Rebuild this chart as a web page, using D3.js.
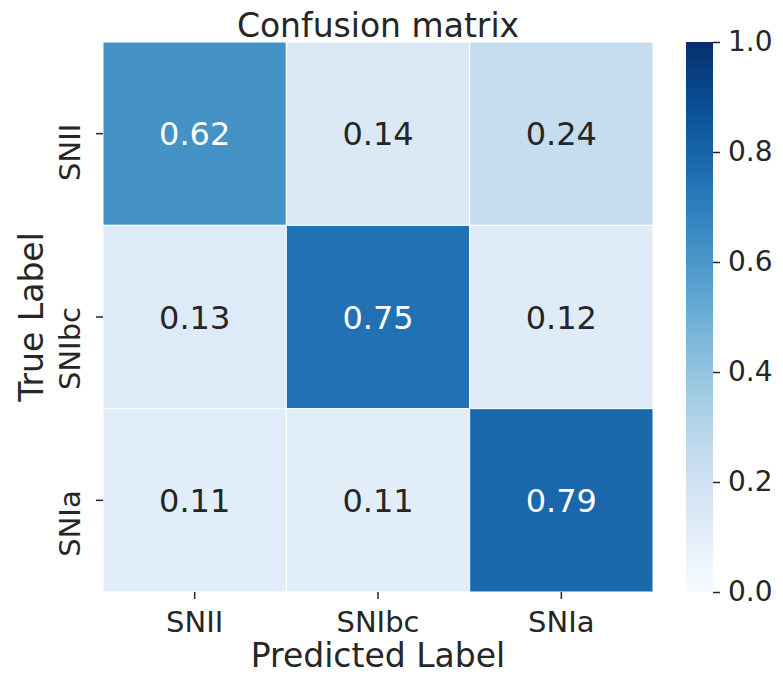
<!DOCTYPE html>
<html>
<head>
<meta charset="utf-8">
<script src="https://cdn.jsdelivr.net/npm/d3@7"></script>
<style>
  body { margin: 0; background: #fff; }
  svg text { font-family: "DejaVu Sans", sans-serif; fill: #262626; }
</style>
</head>
<body>
<svg width="783" height="675"></svg>
<script>
var labels = ['SNII', 'SNIbc', 'SNIa'];
var matrix = [
    [0.62, 0.14, 0.24],
    [0.13, 0.75, 0.12],
    [0.11, 0.11, 0.79]
];
var barTicks = [0, 0.2, 0.4, 0.6, 0.8, 1.0];

var svg = d3.select('svg');
var mLeft = 103, mTop = 42, size = 550;

var x = d3.scaleBand().domain(labels).range([mLeft, mLeft + size]);
var y = d3.scaleBand().domain(labels).range([mTop, mTop + size]);
var color = d3.scaleSequential(d3.interpolateBlues).domain([0, 1]);

var cells = [];
matrix.forEach(function(row, i) {
    row.forEach(function(v, j) { cells.push({ t: labels[i], p: labels[j], v: v }); });
});

svg.selectAll('.cell')
        .data(cells)
    .enter().append('rect')
        .attr('x', function(d) { return x(d.p); })
        .attr('y', function(d) { return y(d.t); })
        .attr('width', x.bandwidth())
        .attr('height', y.bandwidth())
        .attr('fill', function(d) { return color(d.v); })
        .attr('stroke', '#fff')
        .attr('stroke-width', 1);

svg.selectAll('.annot')
        .data(cells)
    .enter().append('text')
        .attr('x', function(d) { return x(d.p) + x.bandwidth() / 2; })
        .attr('y', function(d) { return y(d.t) + y.bandwidth() / 2; })
        .attr('text-anchor', 'middle')
        .attr('dy', '0.36em')
        .style('font-size', '32px')
        .style('fill', function(d) { return d.v > 0.5 ? '#fff' : '#262626'; })
        .text(function(d) { return d.v.toFixed(2); });

// axes
var xAxis = svg.append('g')
    .attr('transform', 'translate(0,' + (mTop + size) + ')')
    .call(d3.axisBottom(x).tickSize(7).tickPadding(12));
var yAxis = svg.append('g')
    .attr('transform', 'translate(' + mLeft + ',0)')
    .call(d3.axisLeft(y).tickSize(7).tickPadding(8));
[xAxis, yAxis].forEach(function(a) {
    a.select('.domain').remove();
    a.selectAll('line').attr('stroke', '#262626').attr('stroke-width', 1.5);
    a.selectAll('text').style('font-size', '29px').attr('fill', '#262626');
});
yAxis.selectAll('.tick text')
    .attr('x', 0).attr('y', 0).attr('dy', '0')
    .attr('text-anchor', 'end')
    .attr('transform', 'translate(-23,-10) rotate(-90)');

svg.append('text')
    .attr('x', mLeft + size / 2).attr('y', 37)
    .attr('text-anchor', 'middle')
    .style('font-size', '33px')
    .text('Confusion matrix');

svg.append('text')
    .attr('x', mLeft + size / 2).attr('y', 667)
    .attr('text-anchor', 'middle')
    .style('font-size', '33px')
    .text('Predicted Label');

svg.append('text')
    .attr('transform', 'translate(43,' + (mTop + size / 2) + ') rotate(-90)')
    .attr('text-anchor', 'middle')
    .style('font-size', '33px')
    .text('True Label');

// colorbar
var cbX = 686, cbW = 27;
var cbY = d3.scaleLinear().domain([0, 1]).range([mTop + size, mTop]);
var grad = svg.append('defs').append('linearGradient')
    .attr('id', 'cb').attr('x1', 0).attr('x2', 0).attr('y1', 1).attr('y2', 0);
d3.range(0, 1.001, 0.05).forEach(function(t) {
    grad.append('stop').attr('offset', t).attr('stop-color', color(t));
});
svg.append('rect')
    .attr('x', cbX).attr('y', mTop)
    .attr('width', cbW).attr('height', size)
    .attr('fill', 'url(#cb)');
var cbAxis = svg.append('g')
    .attr('transform', 'translate(' + (cbX + cbW) + ',0)')
    .call(d3.axisRight(cbY).tickValues(barTicks).tickFormat(d3.format('.1f')).tickSize(7).tickPadding(8));
cbAxis.select('.domain').remove();
cbAxis.selectAll('line').attr('stroke', '#262626').attr('stroke-width', 1.5);
cbAxis.selectAll('text').style('font-size', '28px').attr('fill', '#262626');
</script>
</body>
</html>
